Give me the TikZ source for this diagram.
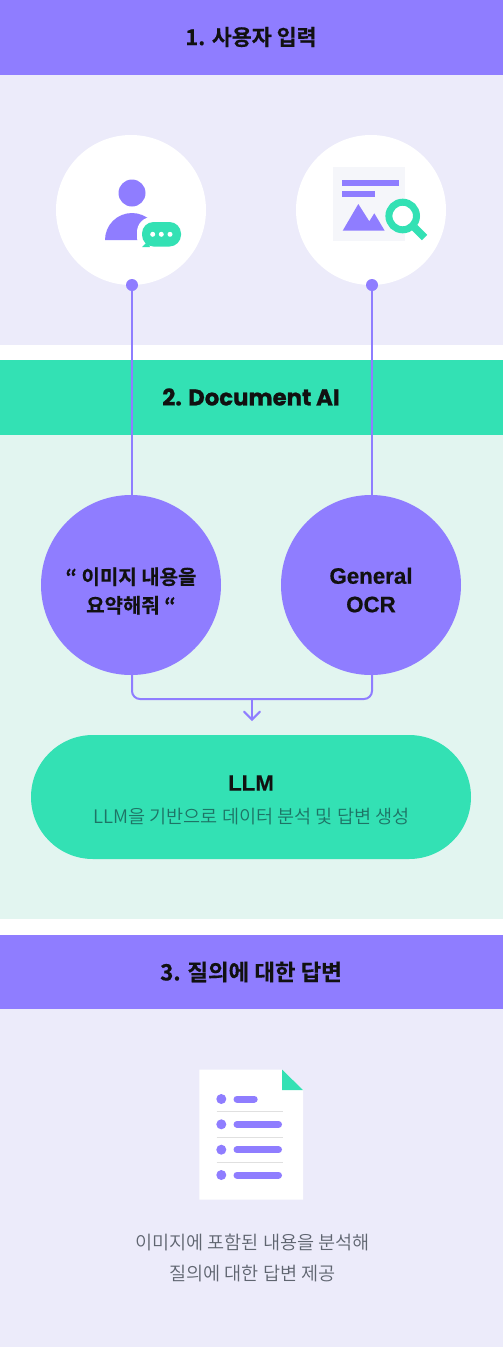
\documentclass[tikz,border=0pt]{standalone}
\usepackage{fontspec}
\usetikzlibrary{arrows.meta}
\setmainfont{Noto Sans CJK KR}
\newfontfamily\krbold[FakeBold=0.35]{Noto Sans CJK KR Bold}
\newfontfamily\krreg{Noto Sans CJK KR DemiLight}
\newfontfamily\popb[FakeBold=0.9]{Poppins Bold}
\newfontfamily\latb[FakeBold=0.6]{Liberation Sans Bold}
\definecolor{pur}{HTML}{8F7DFF}
\definecolor{grn}{HTML}{33E1B4}
\definecolor{lav}{HTML}{ECEBFA}
\definecolor{mnt}{HTML}{E2F5F0}
\definecolor{iconbg}{HTML}{F5F6FA}
\definecolor{txtd}{HTML}{111111}
\definecolor{txtg}{HTML}{5F6570}
\definecolor{txtm}{HTML}{1E7466}
\tikzset{
  head/.style={font=\krbold\fontsize{21.7}{25}\selectfont,text=txtd,inner sep=0pt},
  big/.style={circle,fill=pur,minimum size=180pt,inner sep=0pt},
  bigtxt/.style={align=center,text=txtd,inner sep=0pt,font=\krbold\fontsize{20}{28.5}\selectfont},
  lattxt/.style={align=center,text=txtd,inner sep=0pt,font=\latb\fontsize{22.3}{28.5}\selectfont},
  whitec/.style={circle,fill=white,minimum size=150pt,inner sep=0pt},
  dotc/.style={circle,fill=pur,minimum size=12pt,inner sep=0pt},
  link/.style={draw=pur,line width=2pt},
  gray/.style={font=\krreg\fontsize{18.6}{31}\selectfont,text=txtg,align=center,inner sep=0pt}
}
\begin{document}
\begin{tikzpicture}[x=1pt,y=-1pt]
\useasboundingbox (0,0) rectangle (503,1347);
\fill[white] (0,0) rectangle (503,1347);
\fill[pur] (0,0) rectangle (503,75);
\fill[lav] (0,75) rectangle (503,345);
\fill[grn] (0,360) rectangle (503,435);
\fill[mnt] (0,435) rectangle (503,919);
\fill[pur] (0,935) rectangle (503,1009);
\fill[lav] (0,1009) rectangle (503,1347);
\node[head] (h1) at (251,37) {1. 사용자 입력};
\node[head,font=\popb\fontsize{22.8}{25}\selectfont] (h2) at (251,397) {2. Document AI};
\node[head,font=\krbold\fontsize{22.4}{25}\selectfont] (h3) at (251,972) {3. 질의에 대한 답변};
\node[whitec] (w1) at (131,210) {};
\node[whitec] (w2) at (371,210) {};
% user icon
\fill[pur] (132,193) circle (13.5);
\fill[pur] (105,240) arc[start angle=180,end angle=360,radius=27] -- cycle;
\fill[white,rounded corners=15pt] (137,217) rectangle (186,252);
\fill[grn,rounded corners=11.5pt] (142,222) rectangle (181,246.5);
\fill[grn] (142,247) -- (150,247) -- (146,240) -- (146,243) -- cycle;
\foreach \x in {152.7,161.3,170}{\fill[white] (\x,234.3) circle (2.5);}
% image search icon
\fill[iconbg] (333,167) rectangle (405,241);
\fill[pur] (342,180) rectangle (399,186);
\fill[pur] (342,190.5) rectangle (375,196.5);
\fill[pur] (342.7,230.7) -- (358.3,204) -- (369.3,221.3) -- (374.3,213.3) -- (384.7,230.7) -- cycle;
\draw[grn,line width=7.5pt] (414.5,227.5) -- (424.5,237.5);
\draw[grn,line width=7pt,fill=white] (402.7,216) circle (13.8);
% big circles
\node[big] (q1) at (131,585) {};
\node[big] (q2) at (371,585) {};
\node[bigtxt] (q1t) at (131,591) {“ 이미지 내용을\\요약해줘 “};
\node[lattxt] (q2t) at (371,590) {General\\OCR};
\node[dotc] (d1) at (132,285) {};
\node[dotc] (d2) at (372,285) {};
\draw[link] (d1) -- (d1 |- q1.north);
\draw[link] (d2) -- (d2 |- q2.north);
\coordinate (j) at (252,699);
\coordinate (t) at (252,721);
\draw[link,rounded corners=8pt] (d1 |- q1.south) -- (d1 |- j) -- (d2 |- j) -- (d2 |- q2.south);
\draw[link,-{Straight Barb[length=8pt,width=16pt,line cap=round]}] (j) -- (t);
\node[fill=grn,rounded corners=62pt,minimum width=440pt,minimum height=124pt,inner sep=0pt] (llm) at (251,797) {};
\node[lattxt] (l1) at (251,783) {LLM};
\node[gray,text=txtm] (l2) at (251.5,816.5) {LLM을 기반으로 데이터 분석 및 답변 생성};
% document icon
\fill[white] (199.3,1069.5) -- (282,1069.5) -- (303,1090) -- (303,1199.7) -- (199.3,1199.7) -- cycle;
\fill[grn] (282,1069.5) -- (303,1090) -- (282,1090) -- cycle;
\foreach \y/\e in {1099/257.7,1124.3/282,1149.7/282,1175/282}{
  \fill[pur] (221.3,\y) circle (5);
  \draw[pur,line width=7pt,line cap=round] (237,\y) -- (\e-3.5,\y);
}
\foreach \y in {1111.3,1137,1162.3}{\draw[black!12,line width=1pt] (216.7,\y) -- (283,\y);}
\node[gray] (t1) at (252.5,1257.5) {이미지에 포함된 내용을 분석해\\질의에 대한 답변 제공};
\end{tikzpicture}
\end{document}
